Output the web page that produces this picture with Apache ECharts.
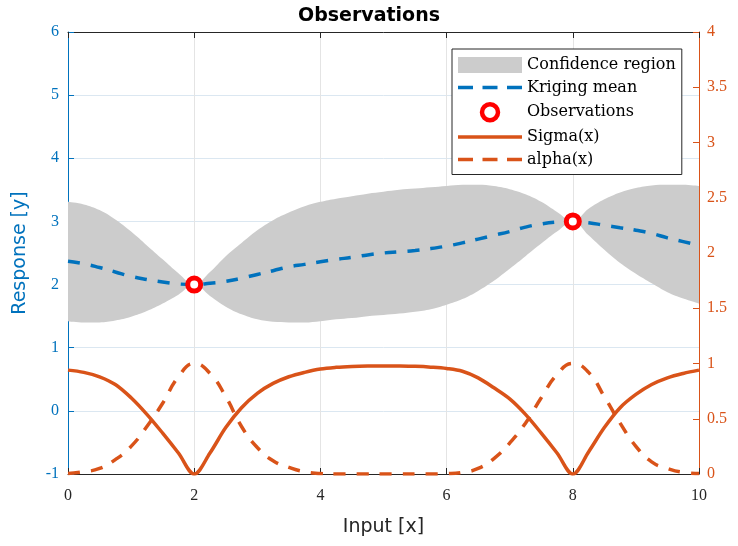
<!DOCTYPE html>
<html><head><meta charset="utf-8">
<script src="https://cdn.jsdelivr.net/npm/echarts@6/dist/echarts.min.js"></script>
<style>html,body{margin:0;padding:0;background:#fff}#c{width:738px;height:546px}</style>
</head><body><div id="c"></div>
<script>
const xs = [0,0.25,0.5,0.75,1,1.25,1.5,1.75,2,2.25,2.5,2.75,3,3.25,3.5,3.75,4,4.25,4.5,4.75,5,5.25,5.5,5.75,6,6.25,6.5,6.75,7,7.25,7.5,7.75,8,8.25,8.5,8.75,9,9.25,9.5,9.75,10];
const krigingMean = [2.37,2.33,2.27,2.20,2.13,2.08,2.04,2.01,2.00,2.02,2.05,2.10,2.16,2.22,2.28,2.32,2.36,2.40,2.43,2.47,2.50,2.52,2.54,2.57,2.61,2.66,2.72,2.78,2.84,2.91,2.96,2.99,3.00,2.98,2.94,2.90,2.86,2.81,2.74,2.68,2.62];
const upperBound = [3.31,3.27,3.18,3.03,2.84,2.62,2.40,2.18,2.00,2.20,2.45,2.66,2.86,3.02,3.14,3.24,3.31,3.36,3.40,3.44,3.47,3.50,3.52,3.54,3.56,3.58,3.58,3.56,3.51,3.43,3.31,3.15,3.00,3.20,3.35,3.46,3.53,3.57,3.58,3.58,3.56];
const lowerBound = [1.42,1.40,1.40,1.43,1.49,1.58,1.70,1.84,2.00,1.82,1.65,1.53,1.45,1.41,1.40,1.40,1.42,1.45,1.47,1.50,1.52,1.54,1.57,1.61,1.68,1.77,1.90,2.06,2.25,2.45,2.65,2.84,3.00,2.78,2.55,2.34,2.17,2.02,1.88,1.78,1.70];
const sigmaX = [0.94,0.92,0.88,0.81,0.69,0.54,0.37,0.19,0.0,0.19,0.42,0.60,0.73,0.82,0.88,0.92,0.95,0.965,0.973,0.977,0.978,0.977,0.974,0.967,0.955,0.93,0.87,0.78,0.68,0.54,0.37,0.19,0.0,0.20,0.42,0.60,0.72,0.81,0.87,0.91,0.94];
const alphaX = [0.005,0.02,0.05,0.13,0.25,0.43,0.64,0.88,1.0,0.91,0.70,0.43,0.24,0.12,0.06,0.02,0.005,0,0,0,0,0,0,0,0.003,0.015,0.05,0.14,0.28,0.46,0.69,0.90,1.0,0.92,0.70,0.46,0.25,0.11,0.05,0.015,0.005];
const obsX = [2, 8];
const obsY = [2, 3];
const xTicks = [0,2,4,6,8,10];
const leftTicks = [-1,0,1,2,3,4,5,6];
const rightTicks = [0,0.5,1,1.5,2,2.5,3,3.5,4];

const BLUE = '#0072BD', ORANGE = '#D95319', DARK = '#262626';
const SOLID_ICON = 'path://M0,0h64v3.5h-64z';
const DASH_ICON = 'path://M0,0h15v3.5h-15z M24.5,0h15v3.5h-15z M49,0h15v3.5h-15z';
const pair = arr => xs.map((x, i) => [x, arr[i]]);
const chart = echarts.init(document.getElementById('c'), null, {renderer: 'canvas'});
const serif = 'Liberation Serif';
chart.setOption({
  animation: false,
  backgroundColor: '#ffffff',
  title: {
    text: 'Observations', left: 'center', top: 2,
    textStyle: {fontFamily: 'DejaVu Sans', fontWeight: 'bold', fontSize: 19, color: '#000'}
  },
  grid: {left: 68, right: 39, top: 32, bottom: 72},
  legend: {
    left: 452, top: 49, orient: 'vertical',
    itemWidth: 64, itemHeight: 16, itemGap: 6.5,
    padding: [8, 6, 7, 6],
    backgroundColor: '#ffffff', borderColor: DARK, borderWidth: 1,
    textStyle: {fontFamily: 'DejaVu Serif', fontSize: 16, color: '#000'},
    data: [
      {name: 'Confidence region', icon: 'rect', itemStyle: {color: '#cccccc'}},
      {name: 'Kriging mean', icon: DASH_ICON, itemStyle: {color: BLUE}},
      {name: 'Observations', icon: 'circle', itemStyle: {color: '#ffffff', borderColor: '#ff0000', borderWidth: 4.5}},
      {name: 'Sigma(x)', icon: SOLID_ICON, itemStyle: {color: ORANGE}},
      {name: 'alpha(x)', icon: DASH_ICON, itemStyle: {color: ORANGE}}
    ]
  },
  xAxis: [{
    type: 'value', min: xTicks[0], max: xTicks[xTicks.length - 1], interval: 2,
    name: 'Input [x]', nameLocation: 'middle', nameGap: 44,
    nameTextStyle: {fontFamily: 'DejaVu Sans', fontSize: 19, color: DARK},
    axisLine: {onZero: false, lineStyle: {color: DARK, width: 1}},
    axisTick: {inside: true, length: 6, lineStyle: {color: DARK}},
    axisLabel: {fontFamily: serif, fontSize: 16, color: DARK, margin: 14},
    splitLine: {show: true, lineStyle: {color: '#e4e4e4'}}
  }, {
    type: 'value', position: 'top', min: 0, max: 10, interval: 2,
    axisLine: {show: true, onZero: false, lineStyle: {color: DARK, width: 1}},
    axisTick: {show: true, inside: true, length: 6, lineStyle: {color: DARK}},
    axisLabel: {show: false}, splitLine: {show: false}
  }, {
    type: 'category', data: xs, boundaryGap: false, show: false,
    axisLine: {onZero: false}
  }],
  yAxis: [{
    type: 'value', min: leftTicks[0], max: leftTicks[leftTicks.length - 1], interval: 1,
    name: 'Response [y]', nameLocation: 'middle', nameGap: 38,
    nameTextStyle: {fontFamily: 'DejaVu Sans', fontSize: 19, color: BLUE},
    axisLine: {show: true, onZero: false, lineStyle: {color: BLUE, width: 1}},
    axisTick: {show: true, inside: true, length: 6, lineStyle: {color: BLUE}},
    axisLabel: {fontFamily: serif, fontSize: 16, color: BLUE, margin: 9},
    splitLine: {show: true, lineStyle: {color: '#dbe7f1'}}
  }, {
    type: 'value', position: 'right', min: rightTicks[0], max: rightTicks[rightTicks.length - 1], interval: 0.5,
    axisLine: {show: true, onZero: false, lineStyle: {color: ORANGE, width: 1}},
    axisTick: {show: true, inside: true, length: 6, lineStyle: {color: ORANGE}},
    axisLabel: {fontFamily: serif, fontSize: 16, color: ORANGE, margin: 8},
    splitLine: {show: false}
  }],
  series: [
    {
      name: 'bandLower', type: 'line', xAxisIndex: 2, stack: 'band', data: lowerBound,
      symbol: 'none', smooth: 0.4, lineStyle: {opacity: 0}, silent: true, z: 1
    },
    {
      name: 'Confidence region', type: 'line', xAxisIndex: 2, stack: 'band',
      data: upperBound.map((u, i) => u - lowerBound[i]),
      symbol: 'none', smooth: 0.4, lineStyle: {opacity: 0},
      itemStyle: {color: '#cccccc'},
      areaStyle: {color: '#cccccc', opacity: 1}, silent: true, z: 1
    },
    {
      name: 'Kriging mean', type: 'line', data: pair(krigingMean), symbol: 'none', smooth: 0.5,
      itemStyle: {color: BLUE},
      lineStyle: {color: BLUE, width: 3.5, type: [12, 11]}, z: 3
    },
    {
      name: 'Sigma(x)', type: 'line', yAxisIndex: 1, data: pair(sigmaX), symbol: 'none', smooth: 0.35,
      itemStyle: {color: ORANGE},
      lineStyle: {color: ORANGE, width: 3.5}, z: 3
    },
    {
      name: 'alpha(x)', type: 'line', yAxisIndex: 1, data: pair(alphaX), symbol: 'none', smooth: 0.5,
      itemStyle: {color: ORANGE},
      lineStyle: {color: ORANGE, width: 3.5, type: [12, 11]}, z: 3
    },
    {
      name: 'Observations', type: 'scatter', data: obsX.map((x, i) => [x, obsY[i]]),
      symbol: 'circle', symbolSize: 13,
      itemStyle: {color: '#ffffff', borderColor: '#ff0000', borderWidth: 5, opacity: 1}, z: 5
    }
  ]
});
</script>
</body></html>
